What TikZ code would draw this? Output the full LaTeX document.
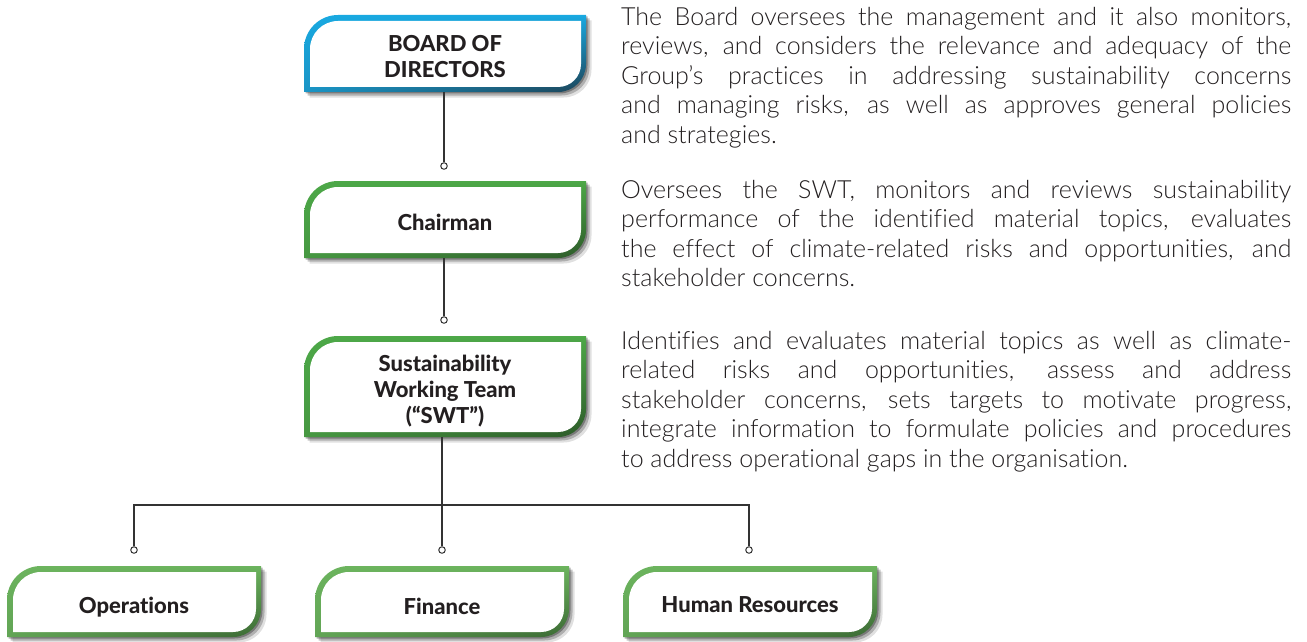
\documentclass[tikz,border=0pt]{standalone}
\usepackage{fontspec}
\setmainfont{Lato}
\newfontfamily\lightfont{Lato Light}[Ligatures=NoCommon]
\newfontfamily\heavyfont{Lato Heavy}[Ligatures=NoCommon]
\usetikzlibrary{calc,shadings}
\definecolor{txt}{HTML}{231F20}
\definecolor{bluelt}{HTML}{19A9E1}
\definecolor{bluedk}{HTML}{1D4458}
\definecolor{greenlt}{HTML}{4DA848}
\definecolor{greendk}{HTML}{2D5A29}
\definecolor{lgreenlt}{HTML}{6CB45E}
\definecolor{lgreendk}{HTML}{3B6934}
\definecolor{linec}{HTML}{333333}
\tikzset{
  bpath/.style n args={6}{insert path={(#1,#4) -- (#1,{#2+#5})
    .. controls (#1,{#2+0.448*#5}) and ({#1+0.448*#5},#2) .. ({#1+#5},#2)
    -- (#3,#2) -- (#3,{#4-#6})
    .. controls (#3,{#4-0.448*#6}) and ({#3-0.448*#6},#4) .. ({#3-#6},#4) -- cycle}},
  boxlabel/.style={text=txt, font=\heavyfont\fontsize{22}{26}\selectfont, align=center, inner sep=0pt},
  pin/.style={circle, draw=linec, fill=white, line width=1pt, minimum size=6.5pt, inner sep=0pt},
  conn/.style={draw=linec, line width=1.3pt},
  para/.style={anchor=north west, inner sep=0pt, align=left, text=txt,
    font=\lightfont\fontsize{25}{29.5}\selectfont},
}
\newcommand\jline[1]{\makebox[670pt][s]{#1}}
\newcommand\orgbox[9]{%
  \foreach \d/\op in {1.5/0.30,3.5/0.22,5.5/0.12}{%
    \fill[black,opacity=\op,bpath={#2+\d}{#3+\d}{#4+\d}{#5+\d}{34}{28}];
  }
  \shade[upper left=#6, upper right=#6, lower left=#6!80!#7, lower right=#7, bpath={#2}{#3}{#4}{#5}{34}{28}];
  \fill[white,bpath={#2+6}{#3+6}{#4-5}{#5-5}{28}{23}];
  \pgfmathsetmacro\bw{#4-#2}\pgfmathsetmacro\bh{#5-#3}
  \node[boxlabel,minimum width=\bw pt,minimum height=\bh pt] (#1) at ({(#2+#4)/2},{(#3+#5)/2}) {};
  \node[boxlabel] (#1-t) at ([yshift=-#9pt]#1.center) {#8};
}
\begin{document}
\begin{tikzpicture}[x=1pt,y=-1pt]
\useasboundingbox (0,0) rectangle (1307,642);
\orgbox{board}{304}{15}{586}{92}{bluelt}{bluedk}{BOARD OF\\DIRECTORS}{3}
\orgbox{chair}{304}{181}{586}{258}{greenlt}{greendk}{Chairman}{3}
\orgbox{swt}{304}{336}{586}{437}{greenlt}{greendk}{Sustainability\\Working Team\\(“SWT”)}{4.5}
\orgbox{ops}{7}{566}{261}{637}{lgreenlt}{lgreendk}{Operations}{6}
\orgbox{fin}{315}{566}{569}{637}{lgreenlt}{lgreendk}{Finance}{5}
\orgbox{hr}{623}{566}{877}{637}{lgreenlt}{lgreendk}{Human Resources}{3}

\node[pin] (p1) at (444,166) {};
\node[pin] (p2) at (444,320) {};
\node[pin] (pL) at (134,550) {};
\node[pin] (pM) at (442,550) {};
\node[pin] (pR) at (749,550) {};
\coordinate (j) at (442,505);
\draw[conn] (board.south -| p1) -- (p1.north);
\draw[conn] (chair.south -| p2) -- (p2.north);
\draw[conn] (swt.south -| pM) -- (pM.north);
\draw[conn] (pL.north) -- (pL.north |- j) -- (pR.north |- j) -- (pR.north);

\node[para] (d1) at (621,7) {%
\jline{The Board oversees the management and it also monitors,}\\
\jline{reviews, and considers the relevance and adequacy of the}\\
\jline{Group’s practices in addressing sustainability concerns}\\
\jline{and managing risks, as well as approves general policies}\\
and strategies.};
\node[para] (d2) at (621,180) {%
\jline{Oversees the SWT, monitors and reviews sustainability}\\
\jline{performance of the identified material topics, evaluates}\\
\jline{the effect of climate-related risks and opportunities, and}\\
stakeholder concerns.};
\node[para] (d3) at (621,331) {%
\jline{Identifies and evaluates material topics as well as climate-}\\
\jline{related risks and opportunities, assess and address}\\
\jline{stakeholder concerns, sets targets to motivate progress,}\\
\jline{integrate information to formulate policies and procedures}\\
to address operational gaps in the organisation.};
\end{tikzpicture}
\end{document}
